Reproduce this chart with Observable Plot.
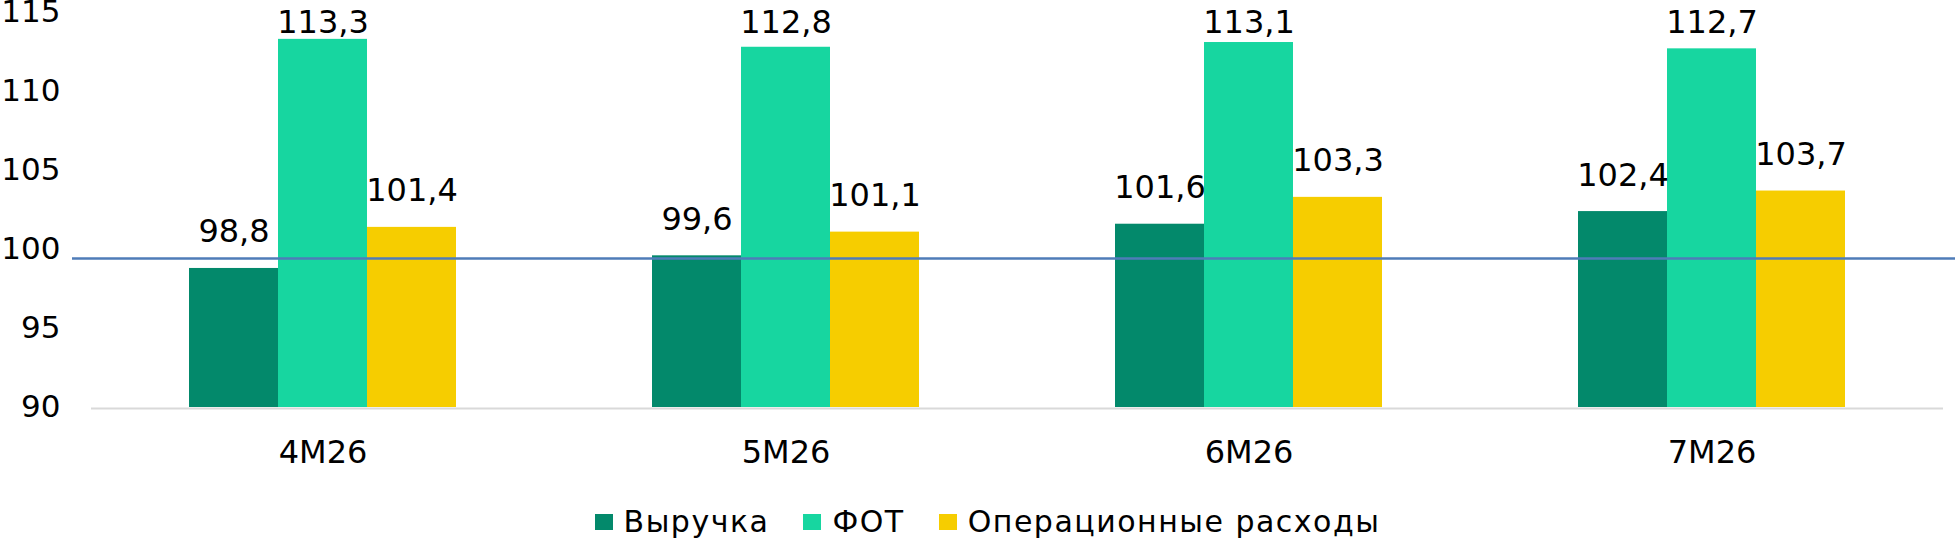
<!DOCTYPE html>
<html><head><meta charset="utf-8">
<script src="https://cdn.jsdelivr.net/npm/d3@7"></script>
<script src="https://cdn.jsdelivr.net/npm/@observablehq/plot@0.6"></script>
<style>
body{margin:0;background:#fff;font-family:"DejaVu Sans",sans-serif;}
#legend{display:flex;justify-content:center;align-items:center;height:32px;margin-top:6px;padding-left:20px;font-size:30px;letter-spacing:1.5px;color:#000;line-height:32px;}
.item{display:flex;align-items:center;margin:0 17px;}
.sw{width:18px;height:16px;margin-right:11px;}
</style></head><body>
<div id="chart"></div><div id="legend"></div>
<script>
const periods = ["4M26","5M26","6M26","7M26"];
const series = ["Выручка","ФОТ","Операционные расходы"];
const revenue = [98.8, 99.6, 101.6, 102.4];
const payroll = [113.3, 112.8, 113.1, 112.7];
const opex = [101.4, 101.1, 103.3, 103.7];
const colors = ["#03896b","#17d6a0","#f6cd00"];
const yDomain = [90, 115];
const yTicks = [90, 95, 100, 105, 110, 115];
const referenceLevel = 99.4;
const labelClampAbove = 112; // labels of taller bars are pinned to the top of the plot area

const seriesValues = [revenue, payroll, opex];
const data = periods.flatMap((p, i) => series.map((s, j) => ({period: p, series: s, value: seriesValues[j][i]})));
const fmt = d => d.value.toFixed(1).replace(".", ",");

const chart = Plot.plot({
  width: 1955, height: 500,
  marginLeft: 91, marginRight: 12, marginTop: 12, marginBottom: 93,
  style: {fontFamily: "DejaVu Sans", fontSize: "32px", color: "#000", background: "#fff"},
  fx: {domain: periods, padding: 0, label: null, tickSize: 0, tickPadding: 33},
  x: {domain: series, paddingInner: 0, paddingOuter: 1.1, axis: null},
  y: {domain: yDomain, axis: null},
  color: {domain: series, range: colors},
  marks: [
    Plot.axisY({ticks: yTicks, tickSize: 0, tickPadding: 31, fontSize: 31, label: null, tickFormat: d => String(d)}),
    Plot.barY(data, {fx: "period", x: "series", y1: yDomain[0], y2: "value", fill: "series"}),
    Plot.ruleY([yDomain[0]], {stroke: "#d9d9d9", strokeWidth: 2, dy: 1}),
    Plot.text(data.filter(d => d.value <= labelClampAbove), {fx: "period", x: "series", y: "value", text: fmt, lineAnchor: "bottom", dy: -26, fontSize: 32, fill: "#000"}),
    Plot.text(data.filter(d => d.value > labelClampAbove), {fx: "period", x: "series", frameAnchor: "top", text: fmt, lineAnchor: "bottom", dy: 20, fontSize: 32, fill: "#000"})
  ]
});
document.getElementById("chart").appendChild(chart);

const yv = chart.scale("y").apply(referenceLevel);
d3.select(chart).append("line")
  .attr("x1", 72).attr("x2", 1955).attr("y1", yv).attr("y2", yv)
  .attr("stroke", "#4f7cb8").attr("stroke-width", 2.5);

const legend = d3.select("#legend");
series.forEach((s, i) => {
  const it = legend.append("div").attr("class", "item");
  it.append("div").attr("class", "sw").style("background", colors[i]);
  it.append("span").text(s);
});
</script>
</body></html>
